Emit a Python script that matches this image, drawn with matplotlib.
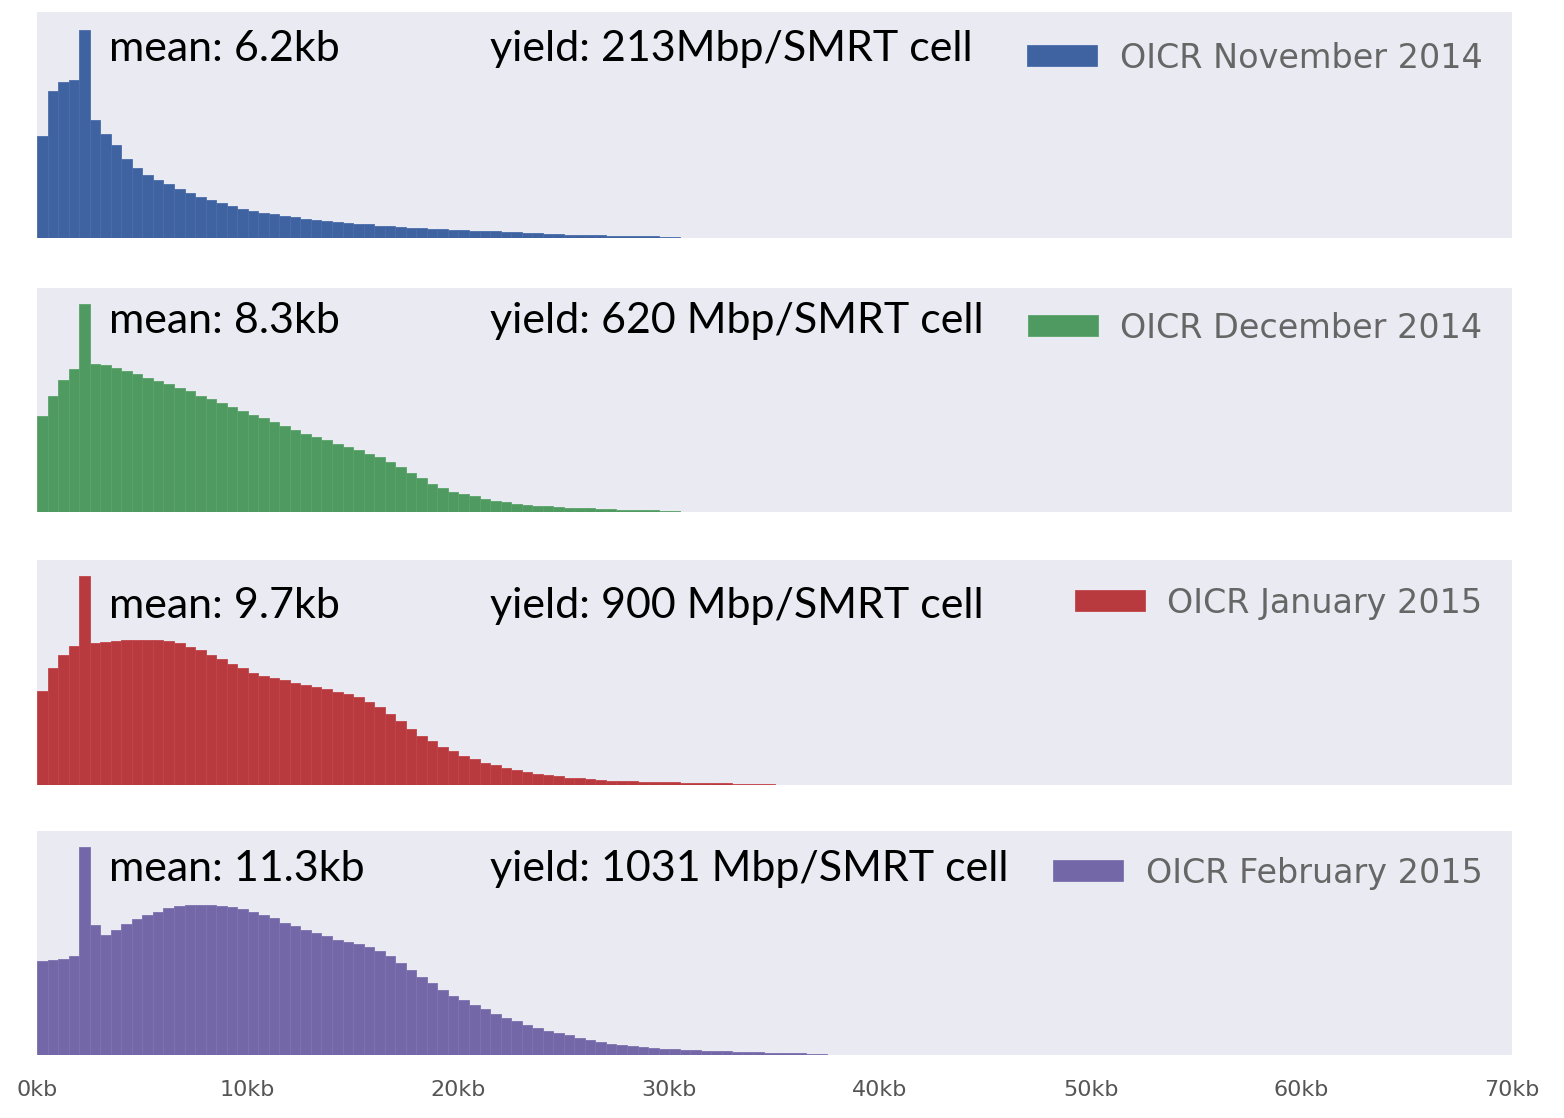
import numpy as np
import matplotlib
matplotlib.use("Agg")
import matplotlib.pyplot as plt

# read length histograms, 0.5kb bins starting at 0kb (heights in % of panel height)
bin_width = 0.5

nov_2014 = [45, 65, 69, 70, 92, 52, 46, 41, 35, 31, 28, 25.5, 24, 21.7, 20, 18, 16.8, 15.5, 14, 13,
            12, 11, 10.4, 9.7, 9.1, 8.4, 8, 7.5, 7.1, 6.6, 6.2, 6.0, 5.5, 5.1, 4.9, 4.6, 4.3, 4.1, 3.9, 3.7,
            3.5, 3.3, 3.1, 2.9, 2.7, 2.5, 2.3, 2.1, 1.9, 1.7, 1.5, 1.4, 1.3, 1.2, 1.1, 1.0, 0.9, 0.8, 0.7, 0.6, 0.5]

dec_2014 = [43, 52, 59, 64, 93, 66, 65.5, 64.5, 63, 61.5, 60, 58.5, 57, 55.5, 54, 52, 50.5, 48.5, 47, 45,
            43.5, 42, 40, 38.5, 36.5, 35, 33.5, 32, 30.5, 29, 27.5, 26, 24.5, 22.5, 20, 17.5, 15, 12.5, 10.5, 9,
            8, 7, 6, 5, 4.3, 3.7, 3.2, 2.8, 2.5, 2.2, 2.0, 1.8, 1.6, 1.4, 1.2, 1.0, 0.9, 0.8, 0.7, 0.6, 0.5]

jan_2015 = [42, 52, 58, 62, 93, 63, 63.5, 64, 64.5, 64.5, 64.5, 64.5, 64, 63, 61.5, 60, 58, 56, 54, 52,
            50, 48.5, 47.5, 46.5, 45.5, 44.5, 43.5, 42.5, 41.5, 40.5, 39, 37, 34.5, 31.5, 28.5, 25, 22, 19.5, 17, 15,
            13, 11.5, 10, 8.8, 7.6, 6.6, 5.8, 5.0, 4.3, 3.8, 3.3, 2.9, 2.6, 2.3, 2.0, 1.8, 1.6, 1.5, 1.4, 1.3,
            1.2, 1.1, 1.0, 0.9, 0.8, 0.7, 0.6, 0.5, 0.4, 0.3]

feb_2015 = [42, 42.5, 43, 44, 93, 58, 53.5, 56, 58.5, 60.5, 62.5, 64, 65.5, 66.5, 67, 67, 67, 66.5, 66, 65,
            64, 62.5, 61, 59, 57.5, 56, 54.5, 53, 51.5, 50.5, 49.5, 48, 46.5, 44, 41, 38, 35, 32, 29, 26.5,
            24.5, 22.5, 20.5, 18.5, 16.5, 15, 13.5, 12, 10.8, 9.8, 8.9, 7.8, 6.8, 5.8, 5.0, 4.4, 3.9, 3.5, 3.1, 2.8,
            2.6, 2.4, 2.2, 2.0, 1.8, 1.6, 1.5, 1.4, 1.2, 1.1, 1.0, 0.9, 0.8, 0.6, 0.5]

series = [nov_2014, dec_2014, jan_2015, feb_2015]
labels = ['OICR November 2014', 'OICR December 2014', 'OICR January 2015', 'OICR February 2015']
colors = ['#3f62a0', '#4f9a60', '#b8393e', '#7467a8']
edge_colors = ['#4a6dab', '#5aa46a', '#c24549', '#7e72b0']
means = ['mean: 6.2kb', 'mean: 8.3kb', 'mean: 9.7kb', 'mean: 11.3kb']
yields = ['yield: 213Mbp/SMRT cell', 'yield: 620 Mbp/SMRT cell',
          'yield: 900 Mbp/SMRT cell', 'yield: 1031 Mbp/SMRT cell']
tick_vals = [0, 10, 20, 30, 40, 50, 60, 70]
tick_labels = ['0kb', '10kb', '20kb', '30kb', '40kb', '50kb', '60kb', '70kb']

W, H = 1564, 1118
fig = plt.figure(figsize=(W / 100, H / 100), dpi=100)
fig.patch.set_facecolor('white')

# panel extents in pixels (top, bottom)
panels = [(12, 238), (288, 512), (560, 785), (831, 1055)]
left_px, right_px = 37, 1512
text_y = [37, 33, 46, 38]
legend_y = [46, 40, 43, 42]

for i, (top, bot) in enumerate(panels):
    ax = fig.add_axes([left_px / W, 1 - bot / H, (right_px - left_px) / W, (bot - top) / H])
    ax.set_facecolor('#eaeaf2')
    for s in ax.spines.values():
        s.set_visible(False)
    vals = np.array(series[i])
    edges = np.arange(len(vals)) * bin_width
    ax.bar(edges, vals, width=bin_width, align='edge', color=colors[i],
           edgecolor=edge_colors[i], linewidth=0.6, label=labels[i])
    ax.set_xlim(0, 70)
    ax.set_ylim(0, 100)
    ax.set_yticks([])
    if i == 3:
        ax.set_xticks(tick_vals)
        ax.set_xticklabels(tick_labels, fontsize=16, color='#555555')
        ax.tick_params(axis='x', length=0, pad=18)
    else:
        ax.set_xticks([])
    h = bot - top
    ax.text(0.049, 1 - text_y[i] / h, means[i], transform=ax.transAxes,
            fontsize=31, family='Lato', va='center', ha='left', color='black')
    ax.text(0.307, 1 - text_y[i] / h, yields[i], transform=ax.transAxes,
            fontsize=31, family='Lato', va='center', ha='left', color='black')
    leg = ax.legend(loc='center right', bbox_to_anchor=(0.98, 1 - legend_y[i] / h),
                    frameon=False, fontsize=24, handlelength=2.1, handleheight=0.6,
                    borderpad=0, borderaxespad=0, handletextpad=0.67)
    for t in leg.get_texts():
        t.set_color('#666666')

plt.savefig('out.png', dpi=100)
